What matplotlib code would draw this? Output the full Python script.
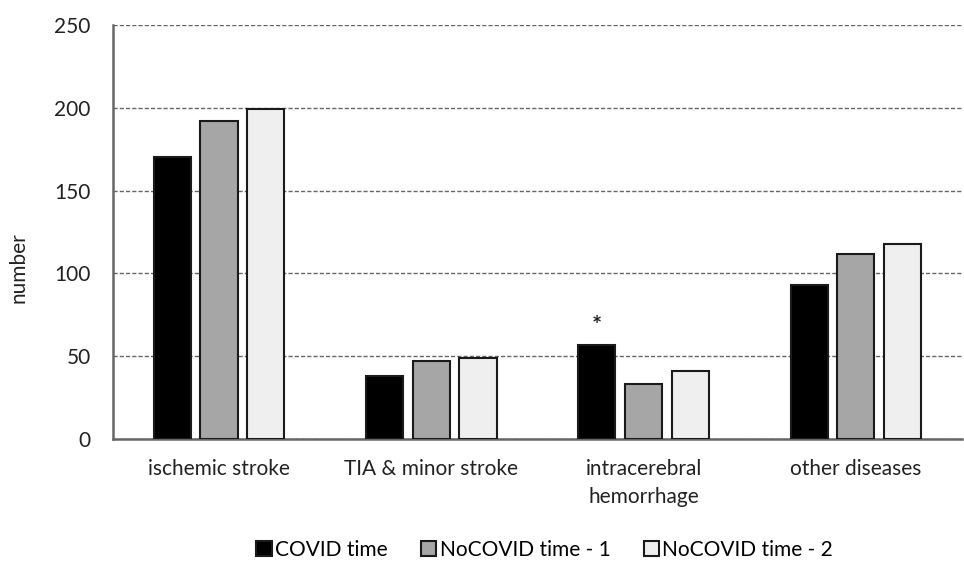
import matplotlib
matplotlib.use('Agg')
import matplotlib.pyplot as plt
import numpy as np

categories = ['ischemic stroke', 'TIA & minor stroke', 'intracerebral\nhemorrhage', 'other diseases']
series = ['COVID time', 'NoCOVID time - 1', 'NoCOVID time - 2']
covid = [170, 38, 57, 93]
nocovid1 = [192, 47, 33, 112]
nocovid2 = [199, 49, 41, 118]
colors = ['#000000', '#a6a6a6', '#efefef']

plt.rcParams['font.family'] = ['Lato', 'DejaVu Sans']

fig = plt.figure(figsize=(9.64, 5.63), dpi=100)
ax = fig.add_axes([0.117, 0.22, 0.881, 0.736])

x = np.arange(len(categories))
width = 0.175
offset = 0.22
for i, (vals, lab) in enumerate(zip([covid, nocovid1, nocovid2], series)):
    ax.bar(x + (i - 1) * offset, vals, width, color=colors[i], edgecolor='#1a1a1a',
           linewidth=1.5, label=lab, zorder=3)

# significance marker
ax.text(x[2] - offset, covid[2] + 4, '*', ha='center', va='bottom', fontsize=17,
        fontweight='bold', color='#222222')

ax.set_xlim(-0.5, 3.5)
ax.set_ylim(0, 250)
ax.set_yticks(range(0, 251, 50))
ax.set_xticks(x)
ax.set_xticklabels(categories, fontsize=15, color='#222222', va='top', linespacing=1.5)
ax.tick_params(axis='y', labelsize=15, length=0, pad=16, labelcolor='#222222')
ax.tick_params(axis='x', length=0, pad=14)
ax.set_ylabel('number', fontsize=15, color='#222222')
ax.yaxis.set_label_coords(-0.099, 0.415)

ax.yaxis.grid(True, linestyle=(0, (3, 1.5)), color='#666666', linewidth=1.0, zorder=0)
for s in ['top', 'right']:
    ax.spines[s].set_visible(False)
for s in ['left', 'bottom']:
    ax.spines[s].set_color('#666666')
    ax.spines[s].set_linewidth(1.8)

fig.legend(loc='lower center', bbox_to_anchor=(0.565, -0.028), ncol=3, frameon=False,
           fontsize=15, handlelength=0.75, handleheight=0.75, handletextpad=0.15,
           columnspacing=1.6)

fig.savefig('out.png', dpi=100)
